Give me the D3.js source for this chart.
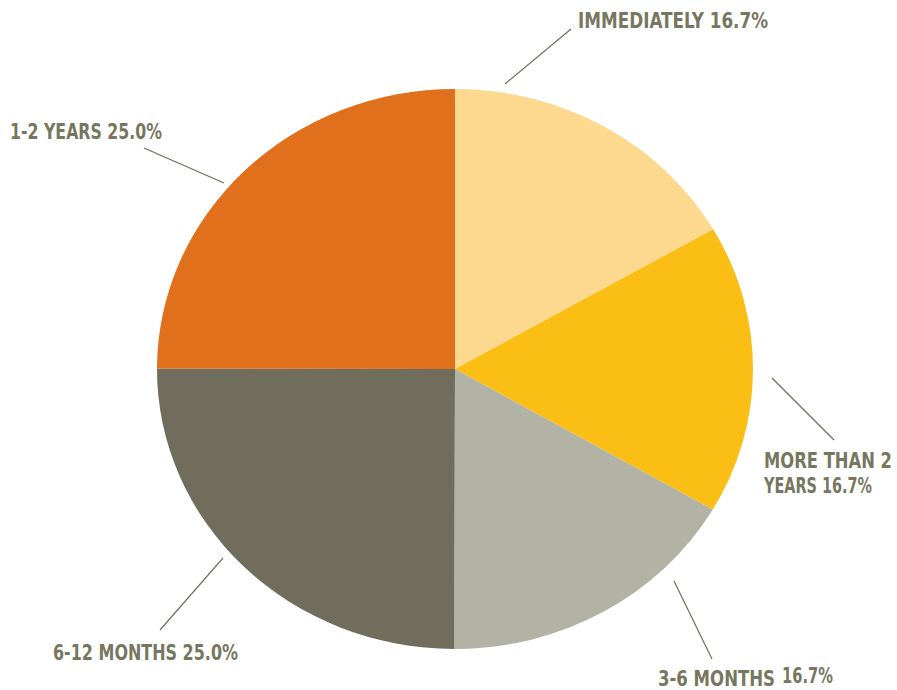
<!DOCTYPE html>
<html>
<head>
<meta charset="utf-8">
<script src="https://cdn.jsdelivr.net/npm/d3@7"></script>
<style>
  html, body { margin: 0; padding: 0; background: #fff; }
  svg { display: block; }
  .lbl { font-family: "DejaVu Sans Condensed", "DejaVu Sans", sans-serif; font-stretch: condensed; font-weight: bold; font-size: 22px; fill: #77765f; }
</style>
</head>
<body>
<svg id="chart" width="897" height="690"></svg>
<script>
// Share of respondents by time frame
const categories = ["IMMEDIATELY", "MORE THAN 2 YEARS", "3-6 MONTHS", "6-12 MONTHS", "1-2 YEARS"];
const values = [16.7, 16.7, 16.7, 25.0, 25.0];
const colors = ["#fdd98f", "#fbbe14", "#b3b3a5", "#706d5c", "#e0701b"];

// Label runs per slice: text, offset from the pie centre, fitted width
const labelRuns = [
  [{ s: "IMMEDIATELY 16.7%", x: 123, y: -341, w: 190 }],
  [{ s: "MORE THAN 2", x: 309, y: 99, w: 128 }, { s: "YEARS 16.7%", x: 309, y: 124, w: 108 }],
  [{ s: "3-6 MONTHS", x: 203, y: 317, w: 117 }, { s: "16.7%", x: 327, y: 314, w: 51 }],
  [{ s: "6-12 MONTHS 25.0%", x: -402, y: 291, w: 185 }],
  [{ s: "1-2 YEARS 25.0%", x: -445, y: -230, w: 152 }]
];
// Leader line ends, relative to the pie centre
const leaders = [
  [[50, -285], [116, -340]],
  [[317, 9], [379, 71]],
  [[219, 212], [257, 290]],
  [[-232, 189], [-295, 261]],
  [[-231, -186], [-311, -221]]
];

const svg = d3.select("#chart");
const cx = 455, cy = 369, rx = 298, ry = 280;

const pie = d3.pie().sort(null).value(d => d);
const arcs = pie(values);
const arc = d3.arc().innerRadius(0).outerRadius(ry);

const g = svg.append("g").attr("transform", `translate(${cx},${cy})`);

// Slightly wider than tall, as drawn
g.append("g")
  .attr("transform", `scale(${rx / ry},1)`)
  .selectAll("path")
  .data(arcs)
  .join("path")
  .attr("d", arc)
  .attr("fill", (d, i) => colors[i]);

// Leader lines
g.selectAll("line.leader")
  .data(leaders)
  .join("line")
  .attr("class", "leader")
  .attr("x1", d => d[0][0]).attr("y1", d => d[0][1])
  .attr("x2", d => d[1][0]).attr("y2", d => d[1][1])
  .attr("stroke", "#6f6d5c")
  .attr("stroke-width", 1.2);

// Labels
g.selectAll("text.lbl")
  .data(labelRuns.flat())
  .join("text")
  .attr("class", "lbl")
  .attr("x", d => d.x)
  .attr("y", d => d.y)
  .attr("textLength", d => d.w)
  .attr("lengthAdjust", "spacingAndGlyphs")
  .text(d => d.s);
</script>
</body>
</html>
